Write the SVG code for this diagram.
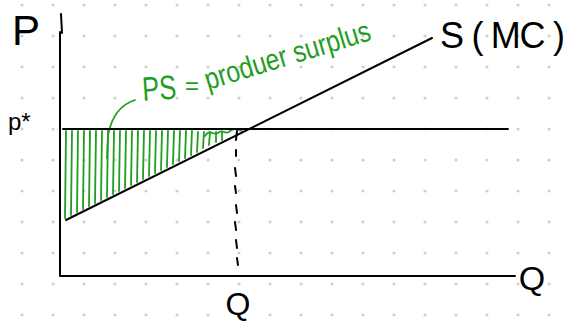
<svg xmlns="http://www.w3.org/2000/svg" width="571" height="324" viewBox="0 0 571 324">
<defs>
<pattern id="dots" x="22" y="5" width="31" height="31" patternUnits="userSpaceOnUse">
<circle cx="0" cy="0" r="1.6" fill="#cfcfcf"/><circle cx="31" cy="0" r="1.6" fill="#cfcfcf"/><circle cx="0" cy="31" r="1.6" fill="#cfcfcf"/><circle cx="31" cy="31" r="1.6" fill="#cfcfcf"/>
</pattern>
</defs>
<style>
.ink{stroke:#000;stroke-width:2;fill:none;stroke-linecap:round;stroke-linejoin:round}
.grn{stroke:#1f9e1f;stroke-width:1.8;fill:none;stroke-linecap:round;stroke-linejoin:round}
.lbl{font-family:"Liberation Sans",Arial,sans-serif;fill:#000}
.glbl{font-family:"Liberation Sans",Arial,sans-serif;fill:#1f9e1f}
</style>
<rect width="571" height="324" fill="#fff"/>
<rect width="571" height="324" fill="url(#dots)"/>
<g id="shading">
<path class="grn" d="M66,131 L65,218 M72,131 L71,215 M78,131 L77,212 M84,131 L83,209 M90,131 L89,206 M96,131 L95,203 M102,131 L101,200 M108,131 L107,197 M114,131 L113,194 M120,131 L119,191 M126,131 L125,188 M132,131 L131,185 M138,131 L137,182 M144,131 L143,179 M150,131 L149,176 M156,131 L155,173 M162,131 L161,170 M168,131 L167,167 M174,131 L173,164 M180,131 L179,161 M186,131 L185,158 M192,131 L191,155 M198,132 L197,152 M204,132 L203,148 M210,132 L209,145 M216,132 L216,142 M222,132 L222,140"/>
<path class="grn" d="M205,136 C210,128 213,136 218,133 C222,128 226,136 230,131 C234,127 238,130 242,131"/>
<path class="grn" d="M135,100 C122,104 112,115 108,135 L107,158"/>
</g>
<g id="axes">
<path class="ink" d="M60,32 L60,276 L515,276"/>
<path class="ink" d="M61,14 L62,33"/>
</g>
<g id="price-line">
<path class="ink" d="M63,129 L508,129"/>
</g>
<g id="supply">
<path class="ink" d="M66,220 L432,38"/>
</g>
<g id="connectors">
<path class="ink" d="M237,131 L236,140 M236,150 L236,156 M235,168 L236,176 M235,186 L236,193 M236,205 L237,213 M235,222 L236,230 M236,240 L237,248 M237,258 L238,265" stroke-width="1.8"/>
</g>
<g id="labels">
<text class="lbl" x="12" y="45" font-size="42">P</text>
<text class="lbl" x="8" y="130" font-size="24">p*</text>
<text class="lbl" x="440" y="48" font-size="36" textLength="125">S ( MC )</text>
<text class="lbl" x="238" y="315" font-size="32" text-anchor="middle">Q</text>
<text class="lbl" x="532" y="290" font-size="34" text-anchor="middle">Q</text>
<text class="glbl" x="143" y="101" font-size="34" textLength="34" lengthAdjust="spacingAndGlyphs" transform="rotate(-4 143 101)">PS</text>
<text class="glbl" x="185" y="94" font-size="24">=</text>
<text class="glbl" x="208" y="90" font-size="30" textLength="172" lengthAdjust="spacingAndGlyphs" transform="rotate(-17 208 90)">produer surplus</text>
</g>
</svg>
